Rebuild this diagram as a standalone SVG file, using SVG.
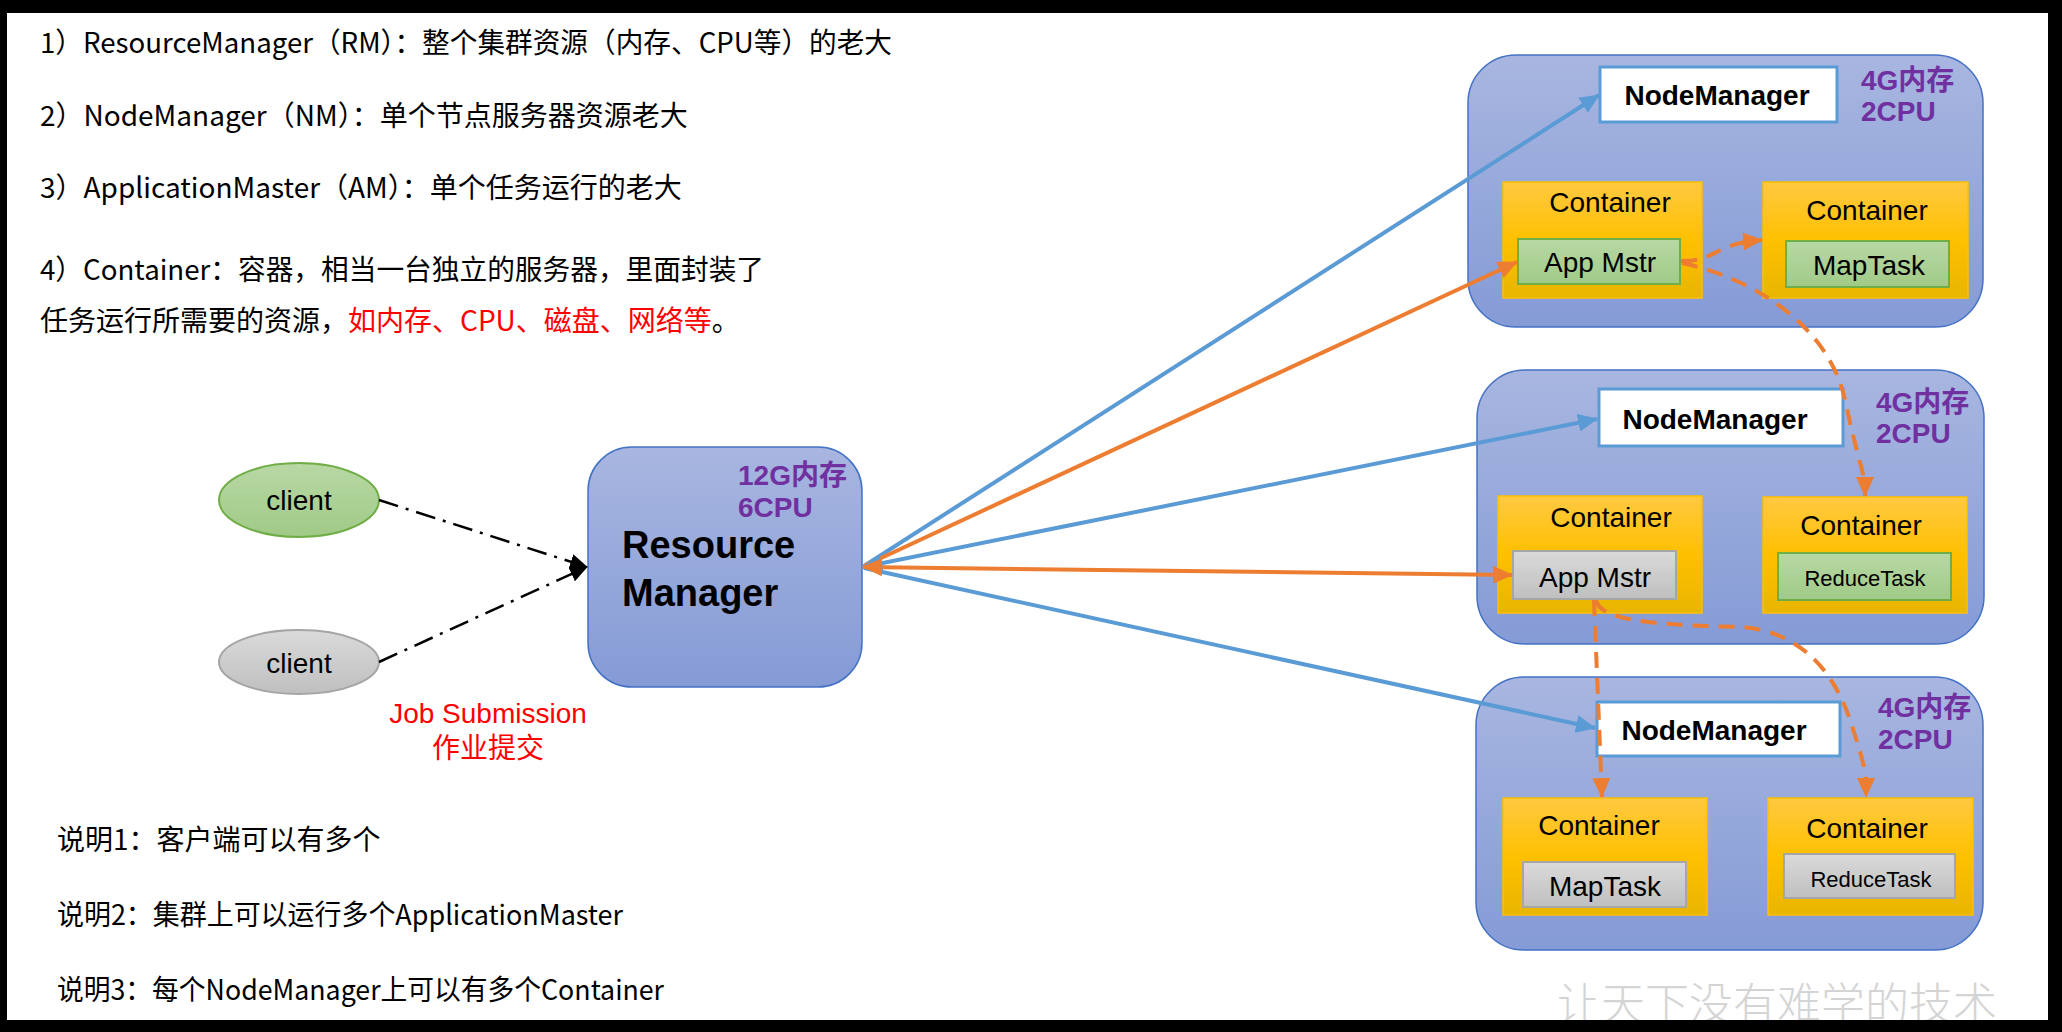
<svg xmlns="http://www.w3.org/2000/svg" width="2062" height="1032" viewBox="0 0 2062 1032">
<defs>
<linearGradient id="gNode" x1="0" y1="0" x2="0" y2="1"><stop offset="0" stop-color="#A8B6E0"/><stop offset="1" stop-color="#859BD6"/></linearGradient>
<linearGradient id="gCont" x1="0" y1="0" x2="0" y2="1"><stop offset="0" stop-color="#FFC942"/><stop offset="0.5" stop-color="#FFC000"/><stop offset="1" stop-color="#E8B500"/></linearGradient>
<linearGradient id="gGreen" x1="0" y1="0" x2="0" y2="1"><stop offset="0" stop-color="#B8D8A4"/><stop offset="1" stop-color="#A0CA87"/></linearGradient>
<linearGradient id="gGray" x1="0" y1="0" x2="0" y2="1"><stop offset="0" stop-color="#DADADA"/><stop offset="1" stop-color="#BFBFBF"/></linearGradient>
<marker id="aO" markerUnits="userSpaceOnUse" markerWidth="20" markerHeight="18" refX="19" refY="9" orient="auto-start-reverse"><path d="M0,0 L20,9 L0,18 z" fill="#ED7D31"/></marker>
<marker id="aB" markerUnits="userSpaceOnUse" markerWidth="20" markerHeight="18" refX="19" refY="9" orient="auto-start-reverse"><path d="M0,0 L20,9 L0,18 z" fill="#5B9BD5"/></marker>
<marker id="aK" markerUnits="userSpaceOnUse" markerWidth="18" markerHeight="16" refX="17" refY="8" orient="auto"><path d="M0,0 L18,8 L0,16 z" fill="#000"/></marker>
<style>
.cn{font-family:"Noto Sans CJK SC","Liberation Sans",sans-serif;font-size:28px;fill:#000}
.red{fill:#FF0000}
.node{fill:url(#gNode);stroke:#4472C4;stroke-width:1.5}
.nm{fill:#fff;stroke:#5B9BD5;stroke-width:3}
.cont{fill:url(#gCont);stroke:#FFC000;stroke-width:1.5}
.tg{fill:url(#gGreen);stroke:#70AD47;stroke-width:2}
.tk{fill:url(#gGray);stroke:#A6A6A6;stroke-width:2}
.lbl{font-family:"Liberation Sans","Noto Sans CJK SC",sans-serif;font-size:28px;fill:#000;text-anchor:middle}
.nmt{font-family:"Liberation Sans",sans-serif;font-size:28px;font-weight:bold;fill:#000;text-anchor:middle}
.res{font-family:"Liberation Sans","Noto Sans CJK SC",sans-serif;font-size:28px;font-weight:bold;fill:#7030A0}
.rm{font-family:"Liberation Sans",sans-serif;font-size:38px;font-weight:bold;fill:#000}
.bl{fill:none;stroke:#5B9BD5;stroke-width:4}
.or{fill:none;stroke:#ED7D31;stroke-width:4}
.od{fill:none;stroke:#ED7D31;stroke-width:4;stroke-dasharray:16 10}
.dd{fill:none;stroke:#000;stroke-width:2.5;stroke-dasharray:20 8 3 8}
</style>
</defs>
<rect x="0" y="0" width="2062" height="1032" fill="#000"/>
<rect x="7" y="13" width="2041" height="1007" fill="#fff"/>

<g id="notes-top">
<text class="cn" x="40" y="53" textLength="852" lengthAdjust="spacingAndGlyphs">1）ResourceManager（RM）：整个集群资源（内存、CPU等）的老大</text>
<text class="cn" x="40" y="126">2）NodeManager（NM）：单个节点服务器资源老大</text>
<text class="cn" x="40" y="198">3）ApplicationMaster（AM）：单个任务运行的老大</text>
<text class="cn" x="40" y="280" textLength="724" lengthAdjust="spacingAndGlyphs">4）Container：容器，相当一台独立的服务器，里面封装了</text>
<text class="cn" x="40" y="331">任务运行所需要的资源，<tspan class="red">如内存、CPU、磁盘、网络等</tspan>。</text>
</g>
<g id="notes-bottom">
<text class="cn" x="57" y="850">说明1：客户端可以有多个</text>
<text class="cn" x="57" y="925" textLength="566" lengthAdjust="spacingAndGlyphs">说明2：集群上可以运行多个ApplicationMaster</text>
<text class="cn" x="57" y="1000" textLength="607" lengthAdjust="spacingAndGlyphs">说明3：每个NodeManager上可以有多个Container</text>
</g>

<g id="client1">
<ellipse cx="299" cy="500" rx="80" ry="37" fill="url(#gGreen)" stroke="#70AD47" stroke-width="2"/>
<text class="lbl" x="299" y="510">client</text>
</g>
<g id="client2">
<ellipse cx="299" cy="662" rx="80" ry="32" fill="url(#gGray)" stroke="#A5A5A5" stroke-width="2"/>
<text class="lbl" x="299" y="673">client</text>
</g>
<g id="job-label">
<text class="lbl" x="488" y="723" style="fill:#FF0000">Job Submission</text>
<text class="lbl" x="488" y="758" style="fill:#FF0000;font-family:'Noto Sans CJK SC',sans-serif">作业提交</text>
</g>

<g id="resource-manager">
<rect class="node" x="588" y="447" width="274" height="240" rx="44"/>
<text class="res" x="738" y="485">12G内存</text>
<text class="res" x="738" y="517">6CPU</text>
<text class="rm" x="622" y="558">Resource</text>
<text class="rm" x="622" y="606">Manager</text>
</g>

<g id="node1">
<rect class="node" x="1468" y="55" width="515" height="272" rx="48"/>
<rect class="nm" x="1600" y="67" width="237" height="55"/>
<text class="nmt" x="1717" y="105">NodeManager</text>
<text class="res" x="1861" y="90">4G内存</text>
<text class="res" x="1861" y="121">2CPU</text>
<rect class="cont" x="1503" y="182" width="199" height="116"/>
<text class="lbl" x="1610" y="212">Container</text>
<rect class="tg" x="1518" y="239" width="162" height="45"/>
<text class="lbl" x="1600" y="272">App Mstr</text>
<rect class="cont" x="1763" y="182" width="205" height="116"/>
<text class="lbl" x="1867" y="220">Container</text>
<rect class="tg" x="1786" y="241" width="163" height="46"/>
<text class="lbl" x="1869" y="275">MapTask</text>
</g>

<g id="node2">
<rect class="node" x="1477" y="370" width="507" height="274" rx="48"/>
<rect class="nm" x="1599" y="389" width="244" height="57"/>
<text class="nmt" x="1715" y="429">NodeManager</text>
<text class="res" x="1876" y="412">4G内存</text>
<text class="res" x="1876" y="443">2CPU</text>
<rect class="cont" x="1498" y="496" width="204" height="117"/>
<text class="lbl" x="1611" y="527">Container</text>
<rect class="tk" x="1513" y="551" width="163" height="48"/>
<text class="lbl" x="1595" y="587">App Mstr</text>
<rect class="cont" x="1763" y="497" width="204" height="116"/>
<text class="lbl" x="1861" y="535">Container</text>
<rect class="tg" x="1778" y="553" width="173" height="47"/>
<text class="lbl" x="1865" y="586" style="font-size:22px">ReduceTask</text>
</g>

<g id="node3">
<rect class="node" x="1476" y="677" width="507" height="273" rx="48"/>
<rect class="nm" x="1597" y="702" width="243" height="54"/>
<text class="nmt" x="1714" y="740">NodeManager</text>
<text class="res" x="1878" y="717">4G内存</text>
<text class="res" x="1878" y="749">2CPU</text>
<rect class="cont" x="1503" y="798" width="204" height="117"/>
<text class="lbl" x="1599" y="835">Container</text>
<rect class="tk" x="1523" y="862" width="163" height="45"/>
<text class="lbl" x="1605" y="896">MapTask</text>
<rect class="cont" x="1768" y="798" width="205" height="117"/>
<text class="lbl" x="1867" y="838">Container</text>
<rect class="tk" x="1784" y="854" width="171" height="44"/>
<text class="lbl" x="1871" y="887" style="font-size:22px">ReduceTask</text>
</g>

<g id="connectors">
<line class="dd" x1="379" y1="500" x2="587" y2="567" marker-end="url(#aK)"/>
<line class="dd" x1="379" y1="662" x2="587" y2="567" marker-end="url(#aK)"/>
<line class="bl" x1="864" y1="566" x2="1599" y2="95" marker-end="url(#aB)"/>
<line class="or" x1="864" y1="566" x2="1517" y2="262" marker-end="url(#aO)"/>
<line class="bl" x1="863" y1="567" x2="1597" y2="419" marker-start="url(#aB)" marker-end="url(#aB)"/>
<line class="bl" x1="864" y1="568" x2="1595" y2="728" marker-end="url(#aB)"/>
<line class="or" x1="863" y1="567" x2="1512" y2="575" marker-start="url(#aO)" marker-end="url(#aO)"/>
<path class="od" d="M1681,261 C1716,262 1712,244 1762,240" marker-end="url(#aO)"/>
<path class="od" d="M1682,263 C1760,280 1830,330 1845,400 S1865,470 1865,496" marker-end="url(#aO)"/>
<path class="od" d="M1594,600 L1602,797" marker-end="url(#aO)"/>
<path class="od" d="M1596,600 C1600,620 1650,625 1740,627 C1790,630 1830,660 1850,720 S1866,780 1866,797" marker-end="url(#aO)"/>
</g>

<text x="1557" y="1020" style="font-family:'Noto Sans CJK SC',serif;font-size:44px;font-weight:300;fill:#D4D4D4">让天下没有难学的技术</text>
<rect x="0" y="1020" width="2062" height="12" fill="#000"/>
</svg>
